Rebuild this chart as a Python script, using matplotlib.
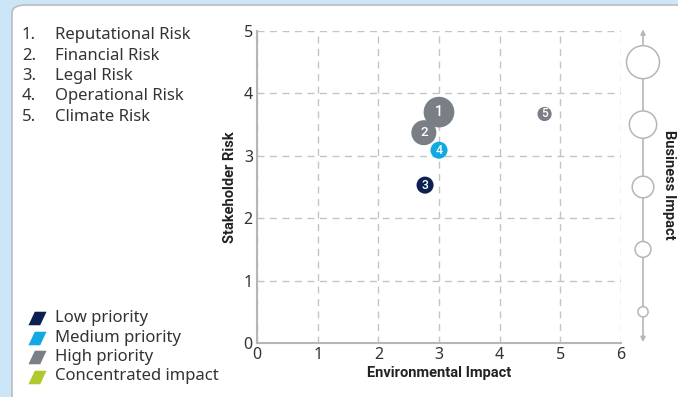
import numpy as np
import matplotlib
matplotlib.use("Agg")
import matplotlib.pyplot as plt
from matplotlib.patches import FancyBboxPatch
from matplotlib.path import Path
from matplotlib.lines import Line2D

plt.rcParams['font.family'] = ['Noto Sans', 'DejaVu Sans']
BOLD = ['Roboto', 'DejaVu Sans']

# data
risk_ids = ['1', '2', '3', '4', '5']
risk_names = ['Reputational Risk', 'Financial Risk', 'Legal Risk', 'Operational Risk', 'Climate Risk']
env_impact = [3.0, 2.75, 2.77, 3.0, 4.74]
stake_risk = [3.70, 3.37, 2.53, 3.09, 3.67]
biz_impact = [4.6, 3.6, 2.2, 2.2, 1.7]
priority = ['High', 'High', 'Low', 'Medium', 'High']
scale_levels = [1, 2, 3, 4, 5]
scale_pos = [0.5, 1.5, 2.5, 3.5, 4.5]

priority_labels = ['Low priority', 'Medium priority', 'High priority', 'Concentrated impact']
priority_colors = {'Low': '#0c2151', 'Medium': '#11a9e2', 'High': '#7a7f86', 'Concentrated': '#aec92c'}

DPI = 100


def bubble_area(v):
    d_px = 4.5 + 5.7 * np.asarray(v)
    return (d_px * 72 / DPI) ** 2


fig = plt.figure(figsize=(6.78, 3.97), dpi=DPI)
fig.patch.set_facecolor('#cde6f7')

# white card
card = FancyBboxPatch((12 / 678, -0.05), 1.0, 1 - 5 / 397 + 0.05,
                      boxstyle='round,pad=0,rounding_size=0.02', transform=fig.transFigure,
                      facecolor='white', edgecolor='#b9bcc0', linewidth=1.2, zorder=-5)
fig.patches.append(card)

ax = fig.add_axes([257 / 678, 1 - 343 / 397, (621 - 257) / 678, (343 - 31) / 397])
ax.set_facecolor('none')
ax.set_xlim(0, 6)
ax.set_ylim(0, 5)
ax.set_xticks(range(7))
ax.set_yticks(range(6))
ax.grid(True, linestyle=(0, (5, 4)), color='#c4c4c4', linewidth=1)
ax.tick_params(length=0, labelsize=11.5, colors='#333333', pad=3)
for s in ['top', 'right']:
    ax.spines[s].set_visible(False)
for s in ['left', 'bottom']:
    ax.spines[s].set_color('#b3b6ba')
    ax.spines[s].set_linewidth(1.5)
ax.set_xlabel('Environmental Impact', fontsize=10.5, fontweight='bold', family=BOLD,
              color='#222222', labelpad=2)
ax.set_ylabel('Stakeholder Risk', fontsize=10.5, fontweight='bold', family=BOLD,
              color='#222222', labelpad=5)

cols = [priority_colors[p] for p in priority]
ax.scatter(env_impact, stake_risk, s=bubble_area(biz_impact), c=cols, edgecolors='none',
           zorder=3, clip_on=False)
for x, y, t, v in zip(env_impact, stake_risk, risk_ids, biz_impact):
    ax.text(x, y, t, color='white', fontsize=7.5 + 0.6 * v, ha='center', va='center',
            family=BOLD, fontweight='medium', zorder=4)

# business impact scale
ax2 = fig.add_axes([623 / 678, 1 - 343 / 397, 40 / 678, (343 - 31) / 397])
ax2.set_xlim(-1, 1)
ax2.set_ylim(0, 5)
ax2.axis('off')
ax2.annotate('', xy=(0, 5.07), xytext=(0, 2.5), annotation_clip=False,
             arrowprops=dict(arrowstyle='-|>', color='#b3b6ba', lw=1.2, mutation_scale=7))
ax2.annotate('', xy=(0, -0.03), xytext=(0, 2.5), annotation_clip=False,
             arrowprops=dict(arrowstyle='-|>', color='#b3b6ba', lw=1.2, mutation_scale=7))
ax2.scatter([0] * len(scale_pos), scale_pos, s=bubble_area(scale_levels), facecolors='white',
            edgecolors='#b3b6ba', linewidths=1.1, zorder=3, clip_on=False)
fig.text(669 / 678, 1 - 185 / 397, 'Business Impact', rotation=-90, ha='center', va='center',
         fontsize=10.5, fontweight='bold', family=BOLD, color='#222222')

# numbered risk list
for i, (n, name) in enumerate(zip(risk_ids, risk_names)):
    yy = 1 - (35 + i * 20.5) / 397
    fig.text(22 / 678, yy, n + '.', fontsize=12, color='#333333', va='center')
    fig.text(55 / 678, yy, name, fontsize=12, color='#333333', va='center')

# priority legend
para = Path([(-1, -0.75), (0.3, -0.75), (1, 0.75), (-0.3, 0.75), (-1, -0.75)],
            [Path.MOVETO, Path.LINETO, Path.LINETO, Path.LINETO, Path.CLOSEPOLY])
for i, (lab, key) in enumerate(zip(priority_labels, ['Low', 'Medium', 'High', 'Concentrated'])):
    yy = 1 - (318 + i * 19.5) / 397
    fig.add_artist(Line2D([37 / 678], [yy], marker=para, markersize=13, color=priority_colors[key],
                          markeredgewidth=0, transform=fig.transFigure))
    fig.text(55 / 678, yy, lab, fontsize=12, color='#333333', va='center')

fig.savefig('out.png', dpi=DPI, facecolor=fig.get_facecolor())
